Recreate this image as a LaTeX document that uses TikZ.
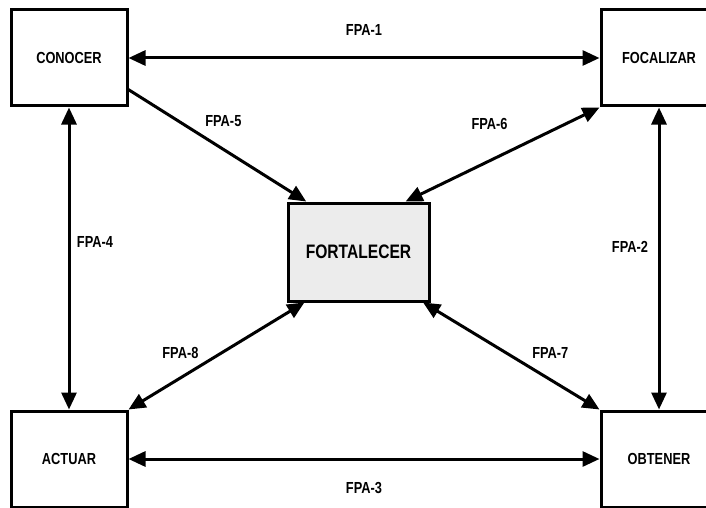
\documentclass[tikz,border=0pt]{standalone}
\usepackage{fontspec}
\setmainfont{Liberation Sans}[FakeStretch=0.8]
\usepackage{xcolor}
\usepackage{tikz}
\usetikzlibrary{arrows.meta,positioning}

\begin{document}
\begin{tikzpicture}[
    x=1pt, y=-1pt,
    box/.style={draw, line width=3pt, minimum width=116pt, minimum height=96pt, inner sep=0pt, font=\fontsize{16}{19}\selectfont\bfseries},
    core/.style={box, fill=gray!15, minimum width=141pt, minimum height=98pt, font=\fontsize{19.5}{22}\selectfont\bfseries},
    lbl/.style={font=\fontsize{16}{19}\selectfont\bfseries, inner sep=1pt},
    arr/.style={-{Triangle[length=17pt,width=15pt]}, line width=3pt},
    darr/.style={{Triangle[length=17pt,width=15pt]}-{Triangle[length=17pt,width=15pt]}, line width=3pt}
  ]
    \useasboundingbox (0,0) rectangle (706,508);
    \clip (0,0) rectangle (706,508);

    \node[box] (conocer) at (69,58) {CONOCER};
    \node[box] (focalizar) at (659,58) {FOCALIZAR};
    \node[box] (actuar) at (69,459) {ACTUAR};
    \node[box] (obtener) at (659,459) {OBTENER};
    \node[core] (fortalecer) at (358.5,252) {FORTALECER};

    \draw[darr] (conocer.east) -- node[lbl, midway, yshift=28pt]{FPA-1} (focalizar.west);
    \draw[darr] (focalizar.south) -- node[lbl, midway, xshift=-29pt, yshift=12pt]{FPA-2} (obtener.north);
    \draw[darr] (actuar.east) -- node[lbl, midway, yshift=-29pt]{FPA-3} (obtener.west);
    \draw[darr] (conocer.south) -- node[lbl, midway, xshift=26pt, yshift=17pt]{FPA-4} (actuar.north);
    \draw[arr] (conocer.-28) -- node[lbl, midway, xshift=6pt, yshift=24pt]{FPA-5} (fortalecer.136);
    \draw[darr] (focalizar.south west) -- node[lbl, midway, xshift=-13pt, yshift=31pt]{FPA-6} (fortalecer.47);
    \draw[darr] (fortalecer.-38) -- node[lbl, midway, xshift=39pt, yshift=3pt]{FPA-7} (obtener.north west);
    \draw[darr] (fortalecer.-137) -- node[lbl, midway, xshift=-36pt, yshift=3pt]{FPA-8} (actuar.north east);
  \end{tikzpicture}
\end{document}
